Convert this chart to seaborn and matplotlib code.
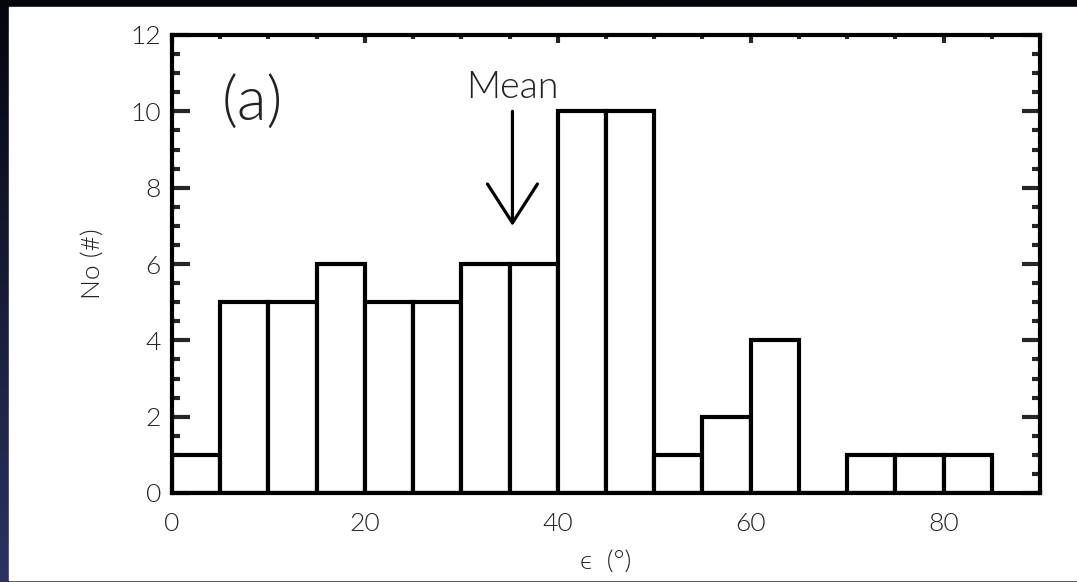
import matplotlib
matplotlib.use("Agg")
import matplotlib.pyplot as plt
import numpy as np
import seaborn as sns
from matplotlib.patches import Rectangle
from matplotlib.ticker import MultipleLocator

# histogram of epsilon (degrees), 5-degree bins
bin_edges = [0, 5, 10, 15, 20, 25, 30, 35, 40, 45, 50, 55, 60, 65, 70, 75, 80, 85]
counts = [1, 5, 5, 6, 5, 5, 6, 6, 10, 10, 1, 2, 4, 0, 1, 1, 1]
mean_eps = 35.3

sns.set_style("white")
plt.rcParams["font.family"] = ["Lato", "DejaVu Sans"]
plt.rcParams["font.weight"] = 300
plt.rcParams["axes.labelweight"] = 300

fig = plt.figure(figsize=(10.77, 5.82), dpi=100)
fig.patch.set_facecolor("#0a0a18")

# slide background: dark gradient strip on the left, white panel
bg = fig.add_axes([0, 0, 1, 1], zorder=-10)
grad = np.linspace(0, 1, 256).reshape(-1, 1)
bg.imshow(grad, aspect="auto", extent=[0, 1, 0, 1],
          cmap=matplotlib.colors.LinearSegmentedColormap.from_list("bg", ["#05050c", "#2c3262"]))
bg.add_patch(Rectangle((9 / 1077, 2 / 582), 1, 573 / 582, color="white", transform=bg.transAxes))
bg.set_axis_off()

ax = fig.add_axes([172 / 1077, 1 - 493 / 582, 868 / 1077, 458 / 582])
centers = [e + 2.5 for e in bin_edges[:-1]]
sns.histplot(x=centers, weights=counts, bins=bin_edges, color="white",
             edgecolor="black", linewidth=3, alpha=1, ax=ax)

ax.set_xlim(0, 90)
ax.set_ylim(0, 12)
ax.xaxis.set_major_locator(MultipleLocator(20))
ax.xaxis.set_minor_locator(MultipleLocator(5))
ax.yaxis.set_major_locator(MultipleLocator(2))
ax.yaxis.set_minor_locator(MultipleLocator(0.5))
ax.tick_params(axis="y", which="both", direction="in", left=True, right=True, width=3,
               labelsize=19, labelcolor="#222222", pad=8)
ax.tick_params(axis="y", which="major", length=13)
ax.tick_params(axis="y", which="minor", length=6)
ax.tick_params(axis="x", which="both", direction="in", bottom=True, top=True, width=3,
               labelsize=19, labelcolor="#222222", pad=14)
ax.tick_params(axis="x", which="major", length=6)
ax.tick_params(axis="x", which="minor", length=3)
for side in ax.spines.values():
    side.set_linewidth(3)
    side.set_color("black")

ax.set_xlabel("\u03f5  (\u00b0)", fontsize=19, color="#222222", labelpad=10)
ax.set_ylabel("No (#)", fontsize=19, color="#222222", labelpad=18)

ax.text(8.3, 10.2, "(a)", fontsize=44, ha="center", va="center", color="#222222")
ax.text(mean_eps, 10.6, "Mean", fontsize=27, ha="center", va="center", color="#222222")
ax.annotate("", xy=(mean_eps, 7.0), xytext=(mean_eps, 10.0),
            arrowprops=dict(arrowstyle="->,head_length=1.4,head_width=0.9",
                            lw=2.3, color="black", mutation_scale=20, shrinkA=0, shrinkB=0))

fig.savefig("out.png", dpi=100, facecolor=fig.get_facecolor())
